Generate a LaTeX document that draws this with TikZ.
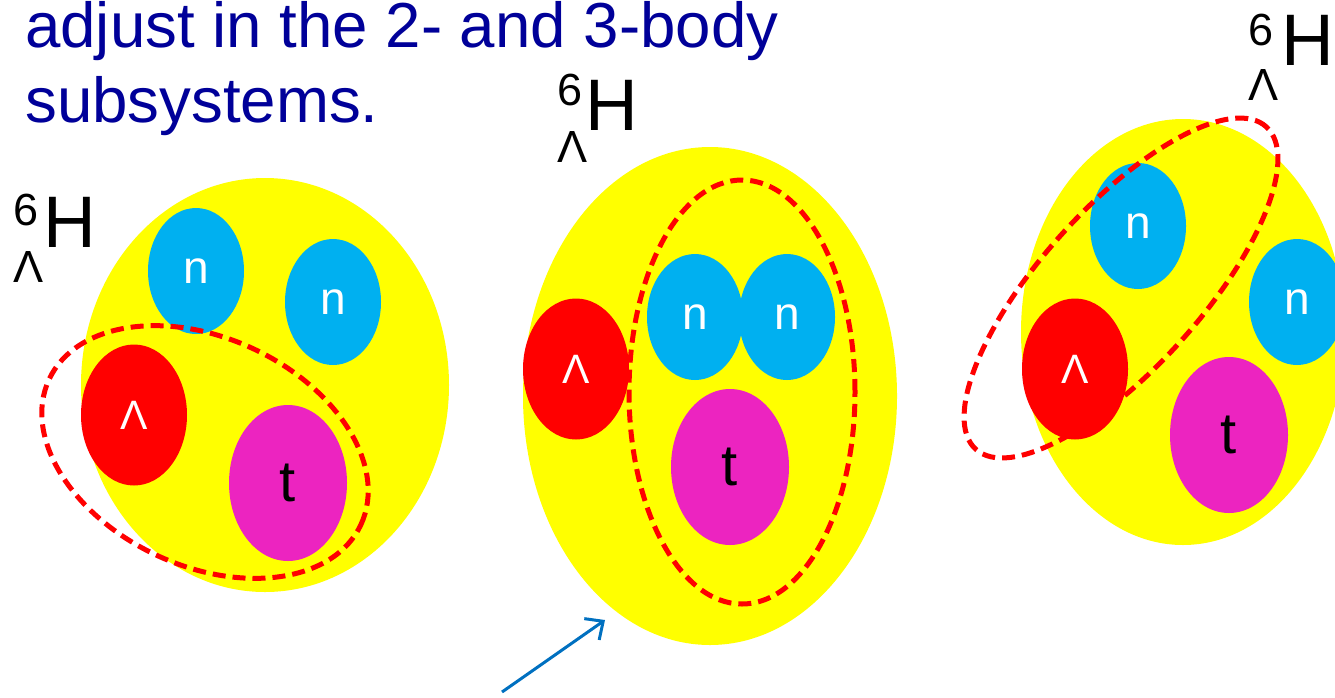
\documentclass[tikz,border=0pt]{standalone}
\usepackage{fontspec}
\setmainfont{Liberation Sans}
\usetikzlibrary{shapes.geometric,arrows.meta}
\definecolor{titleblue}{RGB}{0,0,153}
\definecolor{nucyellow}{RGB}{255,255,0}
\definecolor{neutron}{RGB}{0,176,240}
\definecolor{lambdared}{RGB}{255,0,0}
\definecolor{triton}{RGB}{236,36,192}
\definecolor{arrowblue}{RGB}{0,112,192}
\tikzset{
 core/.style={ellipse, fill=nucyellow, inner sep=0pt},
 particle/.style={ellipse, inner sep=0pt, font=\fontsize{46}{46}\selectfont},
 neut/.style={particle, fill=neutron, text=white, minimum width=96pt, minimum height=126pt},
 lam/.style={particle, fill=lambdared, text=white, minimum width=106pt, minimum height=141pt, font=\fontsize{41}{41}\selectfont},
 trit/.style={particle, fill=triton, text=black, minimum width=118pt, minimum height=156pt, font=\fontsize{58}{58}\selectfont},
 cluster/.style={ellipse, draw=lambdared, line width=5pt, dash pattern=on 13pt off 7pt, inner sep=0pt},
 hbig/.style={inner sep=0pt, anchor=base west, font=\fontsize{73}{73}\selectfont},
 hsmall/.style={inner sep=0pt, anchor=base west, font=\fontsize{45}{45}\selectfont},
 titletext/.style={inner sep=0pt, anchor=base west, text=titleblue, font=\fontsize{63.6}{75}\selectfont},
}
\begin{document}
\begin{tikzpicture}[x=1pt,y=-1pt]
\clip (0,0) rectangle (1335,697);
% title
\node[titletext] (line1) at (25,47) {adjust in the 2- and 3-body};
\node[titletext] (line2) at (25,122) {subsystems.};
% left cluster
\node[core, minimum width=368pt, minimum height=414pt] (coreL) at (265,385) {};
\node[neut] (nL1) at (196,271) {n};
\node[neut] (nL2) at (333,302) {n};
\node[lam] (lL) at (134,415) {Λ};
\node[trit] (tL) at (288,483) {t};
\node[cluster, minimum width=344pt, minimum height=228pt, rotate=-25] (cL) at (205,452) {};
\node[hsmall] (sixL) at (13,225) {6};
\node[hbig] (HL) at (43,247) {H};
\node[hsmall] (lamL) at (13,282) {Λ};
% middle cluster
\node[core, minimum width=374pt, minimum height=498pt] (coreM) at (710,396) {};
\node[lam] (lM) at (576,369) {Λ};
\node[neut] (nM1) at (695,317) {n};
\node[neut] (nM2) at (787,317) {n};
\node[trit] (tM) at (730,467) {t};
\node[cluster, minimum width=226pt, minimum height=424pt] (cM) at (742,392) {};
\node[hsmall] (sixM) at (557,105) {6};
\node[hbig] (HM) at (585,130) {H};
\node[hsmall] (lamM) at (557,162) {Λ};
% right cluster
\node[core, minimum width=324pt, minimum height=426pt] (coreR) at (1183,332) {};
\node[neut] (nR1) at (1138,226) {n};
\node[neut] (nR2) at (1297,302) {n};
\node[lam] (lR) at (1075,369) {Λ};
\node[trit] (tR) at (1229,435) {t};
\node[cluster, minimum width=434pt, minimum height=160pt, rotate=48] (cR) at (1121,288) {};
\node[hsmall] (sixR) at (1248,45) {6};
\node[hbig] (HR) at (1281,65) {H};
\node[hsmall] (lamR) at (1248,100) {Λ};
% arrow
\coordinate (atail) at (502,692);
\coordinate (ahead) at (605,620);
\draw[arrowblue, line width=3pt, -{Straight Barb[length=14pt,width=26pt]}] (atail) -- (ahead);
\end{tikzpicture}
\end{document}
